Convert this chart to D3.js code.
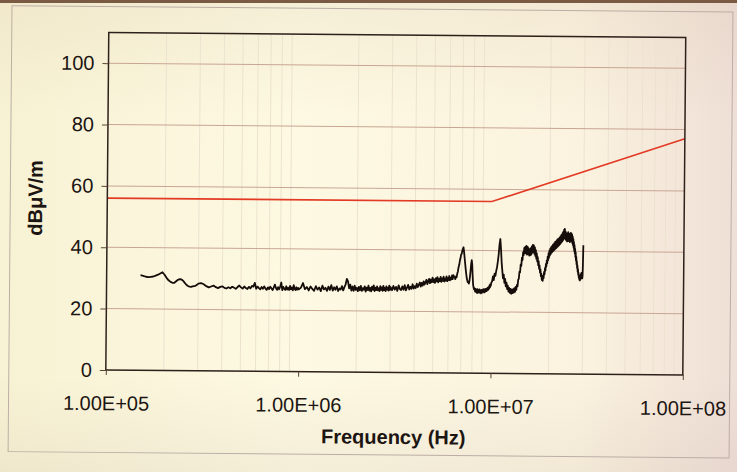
<!DOCTYPE html>
<html>
<head>
<meta charset="utf-8">
<script src="https://cdn.jsdelivr.net/npm/d3@7"></script>
<style>
  html, body { margin: 0; padding: 0; background: #f8f1dc; }
  svg { display: block; }
</style>
</head>
<body>
<svg id="chart" width="737" height="472"></svg>
<script>
// ---- axis definitions ----
const xTickValues = [1e5, 1e6, 1e7, 1e8];
const xTickLabels = ["1.00E+05", "1.00E+06", "1.00E+07", "1.00E+08"];
const yTickValues = [0, 20, 40, 60, 80, 100];
const xTitle = "Frequency (Hz)";
const yTitle = "dBμV/m";

// ---- limit line: [frequency Hz, dBμV/m] ----
const limitLine = [[1e5, 56], [1e7, 56], [1e8, 77]];

// ---- measured emission scan: [frequency kHz, dBμV/m] ----
const emission = [
  [150,31.0],[155,30.8],[160,30.5],[165,30.4],[170,30.5],[175,30.6],[180,30.9],[185,31.2],[190,31.6],[195,32.0],
  [200,31.2],[205,30.2],[210,29.4],[215,28.9],[220,28.6],[225,28.6],[230,29.1],[235,29.6],[240,29.8],[245,29.7],
  [250,29.3],[255,28.6],[260,28.0],[265,27.6],[270,27.4],[275,27.3],[280,27.5],[285,27.6],[290,27.7],[295,28.0],[300,28.4],
  [310,28.6],[320,28.2],[330,27.6],[340,27.2],[350,27.5],[360,27.8],[370,27.3],[380,27.0],[390,27.4],[400,27.6],
  [410,27.1],[420,26.9],[430,27.3],[440,27.0],[450,27.5],[460,27.2],[470,26.8],[480,27.4],[490,27.9],[500,27.3],
  [510,26.9],[520,27.6],[530,27.1],[540,26.8],[550,27.5],[560,27.0],[570,27.8],[580,27.6],[590,28.8],[600,26.9],
  [610,27.6],[620,27.1],[630,26.7],[640,27.5],[650,26.9],[660,27.7],[670,27.0],[680,26.6],[690,27.4],[700,26.8],
  [710,27.6],[720,27.1],[730,26.5],[740,27.3],[750,28.3],[760,27.2],[770,26.6],[780,27.5],[790,26.8],[800,27.7],
  [810,29.0],[820,26.5],[830,27.6],[840,27.0],[850,26.6],[860,27.8],[870,26.7],[880,27.3],[890,26.6],[900,27.9],
  [910,26.8],[920,27.4],[930,26.5],[940,28.2],[950,27.0],[960,26.6],[970,27.5],[980,26.7],[990,27.3],[1000,26.8],
  [1025,27.4],[1050,28.9],[1075,26.9],[1100,27.6],[1125,26.5],[1150,27.8],[1175,27.0],[1200,26.4],[1225,27.9],[1250,26.8],
  [1275,27.5],[1300,26.3],[1325,28.1],[1350,26.9],[1375,27.4],[1400,26.4],[1425,27.8],[1450,26.7],[1475,28.3],[1500,26.5],
  [1525,27.6],[1550,26.8],[1575,27.9],[1600,26.4],[1625,27.2],[1650,26.9],[1675,28.0],[1700,26.6],[1725,27.7],[1750,28.6],
  [1775,30.4],[1800,29.6],[1825,27.3],[1850,28.5],[1875,26.6],[1900,27.9],[1925,26.5],[1950,28.2],[1975,26.8],[2000,27.5],
  [2025,26.4],[2050,27.8],[2075,26.7],[2100,28.1],[2125,26.5],[2150,27.4],[2175,26.9],[2200,28.0],[2225,26.3],[2250,27.6],
  [2275,26.8],[2300,28.2],[2325,26.6],[2350,27.5],[2375,26.4],[2400,27.9],[2425,26.9],[2450,28.3],[2475,26.5],[2500,27.6],
  [2525,26.8],[2550,28.0],[2575,26.7],[2600,27.4],[2625,26.5],[2650,28.1],[2675,26.9],[2700,27.7],[2725,26.6],[2750,28.2],
  [2775,26.8],[2800,27.5],[2825,26.5],[2850,28.0],[2875,27.0],[2900,27.6],[2925,26.7],[2950,28.3],[2975,26.9],[3000,27.8],
  [3050,26.8],[3100,28.2],[3150,27.0],[3200,27.9],[3250,26.6],[3300,28.4],[3350,27.2],[3400,26.9],[3450,28.1],[3500,27.0],
  [3550,28.5],[3600,26.8],[3650,27.7],[3700,28.6],[3750,27.1],[3800,28.0],[3850,27.3],[3900,28.8],[3950,27.4],[4000,28.2],
  [4050,27.6],[4100,29.0],[4150,27.9],[4200,28.6],[4250,29.4],[4300,28.1],[4350,29.3],[4400,28.4],[4450,29.8],[4500,28.7],
  [4550,29.5],[4600,30.3],[4650,28.9],[4700,29.8],[4750,30.6],[4800,29.2],[4850,30.4],[4900,29.5],[4950,31.0],[5000,29.6],
  [5050,30.5],[5100,29.3],[5150,30.9],[5200,29.8],[5250,31.2],[5300,29.5],[5350,30.6],[5400,29.9],[5450,31.3],[5500,29.7],
  [5550,30.8],[5600,30.0],[5650,31.4],[5700,29.8],[5750,30.7],[5800,30.1],[5850,31.5],[5900,29.9],[5950,30.9],[6000,30.3],
  [6050,31.6],[6100,30.2],[6150,31.0],[6200,30.5],[6250,31.8],[6300,30.6],[6350,31.9],[6400,31.4],[6450,31.2],[6500,30.6],
  [6550,31.5],[6600,31.2],[6650,32.4],[6700,33.1],[6750,34.5],[6800,35.2],[6850,36.6],[6900,37.4],[6950,38.6],[7000,38.9],
  [7050,39.9],[7100,40.5],[7150,41.0],[7200,39.5],[7250,37.6],[7300,35.8],[7350,34.0],[7400,32.4],[7450,31.0],[7500,30.2],
  [7550,29.6],[7600,29.8],[7650,29.2],[7700,30.0],[7750,31.6],[7800,33.5],[7850,35.6],[7900,36.8],[7950,35.2],[8000,31.5],
  [8050,28.8],[8100,27.9],[8150,27.3],[8200,27.6],[8250,26.6],[8300,27.5],[8350,26.4],[8400,27.2],[8450,26.1],[8500,27.4],
  [8550,26.5],[8600,27.0],[8650,26.2],[8700,27.3],[8750,26.4],[8800,26.9],[8850,26.0],[8900,27.2],[8950,26.5],[9000,27.1],
  [9050,26.3],[9100,27.4],[9150,26.6],[9200,27.0],[9250,26.4],[9300,27.5],[9350,26.7],[9400,27.3],[9450,26.8],[9500,27.7],
  [9550,27.0],[9600,27.9],[9650,27.2],[9700,28.2],[9750,27.6],[9800,28.7],[9850,28.0],[9900,29.1],[9950,28.6],[10000,29.5],
  [10100,30.0],[10200,31.6],[10300,30.4],[10400,32.5],[10500,31.8],[10600,33.4],[10700,34.6],[10800,36.5],[10900,38.8],[11000,42.0],
  [11100,43.8],[11200,40.5],[11300,36.2],[11400,33.5],[11500,31.0],[11600,32.2],[11700,29.5],[11800,30.8],[11900,28.4],[12000,29.6],
  [12100,27.5],[12200,28.6],[12300,26.7],[12400,27.9],[12500,26.3],[12600,27.6],[12700,26.0],[12800,27.3],[12900,26.2],[13000,27.5],
  [13100,26.4],[13200,27.8],[13300,26.6],[13400,28.2],[13500,27.3],[13600,28.9],[13700,28.4],[13800,30.6],[13900,30.9],[14000,33.2],
  [14100,33.0],[14200,35.6],[14300,35.1],[14400,37.8],[14500,37.0],[14600,39.6],[14700,38.6],[14800,41.0],[14900,39.3],[15000,41.4],
  [15100,39.2],[15200,41.6],[15300,38.8],[15400,41.3],[15500,39.0],[15600,40.8],[15700,38.5],[15800,40.4],[15900,38.6],[16000,40.9],
  [16100,38.8],[16200,41.5],[16300,39.4],[16400,42.0],[16500,39.6],[16600,41.8],[16700,39.1],[16800,41.2],[16900,38.4],[17000,40.3],
  [17100,37.5],[17200,39.2],[17300,36.6],[17400,38.0],[17500,35.4],[17600,36.7],[17700,34.2],[17800,35.3],[17900,33.0],[18000,34.0],
  [18100,31.8],[18200,32.6],[18300,30.6],[18400,31.5],[18500,30.3],[18600,32.0],[18700,31.2],[18800,33.2],[18900,32.4],[19000,34.5],
  [19100,33.6],[19200,35.8],[19300,34.9],[19400,37.0],[19500,36.0],[19600,38.2],[19700,37.0],[19800,39.3],[19900,37.8],[20000,40.2],
  [20100,38.5],[20200,40.8],[20300,39.0],[20400,41.3],[20500,39.4],[20600,41.6],[20700,39.7],[20800,42.0],[20900,40.0],[21000,42.3],
  [21100,40.2],[21200,42.6],[21300,40.5],[21400,43.0],[21500,40.8],[21600,43.2],[21700,41.0],[21800,43.5],[21900,41.3],[22000,43.8],
  [22100,41.5],[22200,44.0],[22300,41.8],[22400,44.2],[22500,42.0],[22600,44.5],[22700,42.3],[22800,44.8],[22900,42.6],[23000,45.2],
  [23100,42.9],[23200,45.5],[23300,43.2],[23400,46.0],[23500,43.6],[23600,46.4],[23700,44.0],[23800,47.0],[23900,44.6],[24000,47.3],
  [24100,44.2],[24200,46.5],[24300,43.8],[24400,46.0],[24500,43.5],[24600,45.6],[24700,43.2],[24800,45.9],[24900,43.4],[25000,46.2],
  [25100,43.6],[25200,45.8],[25300,43.3],[25400,45.5],[25500,43.0],[25600,45.7],[25700,43.4],[25800,46.0],[25900,43.6],[26000,45.8],
  [26100,43.2],[26200,45.4],[26300,42.6],[26400,44.8],[26500,42.0],[26600,44.0],[26700,41.2],[26800,43.0],[26900,40.2],[27000,42.0],
  [27100,39.4],[27200,40.8],[27300,38.2],[27400,39.6],[27500,37.0],[27600,38.2],[27700,35.8],[27800,36.8],[27900,34.6],[28000,35.4],
  [28100,33.4],[28200,34.2],[28300,32.4],[28400,33.0],[28500,31.4],[28600,32.2],[28700,30.8],[28800,31.6],[28900,30.5],[29000,31.9],
  [29100,30.9],[29200,32.6],[29300,31.3],[29400,33.0],[29500,31.5],[29600,32.8],[29700,31.2],[29800,32.0],[29900,35.5],[30000,42.0]
];

// ---- layout ----
const W = 737, H = 472;
const plot = { left: 107, right: 684, top: 35, bottom: 372.5 };

const svg = d3.select("#chart");
const defs = svg.append("defs");

// paper tone
const paper = defs.append("linearGradient").attr("id", "paper").attr("x1", 0).attr("x2", 1).attr("y1", 0).attr("y2", 0);
paper.append("stop").attr("offset", "0%").attr("stop-color", "#f8f2d4");
paper.append("stop").attr("offset", "40%").attr("stop-color", "#fdf9e2");
paper.append("stop").attr("offset", "78%").attr("stop-color", "#fbf3df");
paper.append("stop").attr("offset", "100%").attr("stop-color", "#efdfd6");
const shade = defs.append("linearGradient").attr("id", "shade").attr("x1", 0).attr("x2", 0).attr("y1", 0).attr("y2", 1);
shade.append("stop").attr("offset", "0%").attr("stop-color", "#b09070").attr("stop-opacity", 0.10);
shade.append("stop").attr("offset", "25%").attr("stop-color", "#b09070").attr("stop-opacity", 0);
shade.append("stop").attr("offset", "80%").attr("stop-color", "#a08880").attr("stop-opacity", 0);
shade.append("stop").attr("offset", "100%").attr("stop-color", "#a08880").attr("stop-opacity", 0.10);

svg.append("rect").attr("width", W).attr("height", H).attr("fill", "url(#paper)");
svg.append("rect").attr("width", W).attr("height", H).attr("fill", "url(#shade)");
svg.append("rect").attr("width", W).attr("height", 3).attr("fill", "#7a5a42");

// whole sheet sits at a slight angle
const g = svg.append("g").attr("transform", "rotate(0.5 396 236)");

// outer chart-area frame
g.append("rect")
  .attr("x", 10).attr("y", 9).attr("width", 721).attr("height", 446)
  .attr("fill", "none").attr("stroke", "#bcaea6").attr("stroke-width", 1);

// ---- scales ----
const x = d3.scaleLog().domain([1e5, 1e8]).range([plot.left, plot.right]);
const y = d3.scaleLinear().domain([0, 110]).range([plot.bottom, plot.top]);

// minor vertical gridlines (2..9 in every decade)
const minorTicks = x.ticks().filter(d => {
  const m = d / Math.pow(10, Math.floor(Math.log10(d) + 1e-9));
  return Math.round(m) !== 1;
});
g.append("g").selectAll("line").data(minorTicks).join("line")
  .attr("x1", d => x(d)).attr("x2", d => x(d))
  .attr("y1", plot.top).attr("y2", plot.bottom)
  .attr("stroke", "#ece2d0").attr("stroke-width", 1);

// major horizontal gridlines
g.append("g").selectAll("line").data(yTickValues.filter(v => v > 0)).join("line")
  .attr("x1", plot.left).attr("x2", plot.right)
  .attr("y1", d => y(d)).attr("y2", d => y(d))
  .attr("stroke", "#c9a594").attr("stroke-width", 1);

// limit line
const line = d3.line().x(d => x(d[0])).y(d => y(d[1]));
g.append("path").datum(limitLine)
  .attr("d", line)
  .attr("fill", "none").attr("stroke", "#e23a24").attr("stroke-width", 1.7);

// emission trace
const traceLine = d3.line().x(d => x(d[0] * 1000)).y(d => y(d[1]));
g.append("path").datum(emission)
  .attr("d", traceLine)
  .attr("fill", "none").attr("stroke", "#140d0a").attr("stroke-width", 1.8)
  .attr("stroke-linejoin", "round");

// plot border
g.append("rect")
  .attr("x", plot.left).attr("y", plot.top)
  .attr("width", plot.right - plot.left).attr("height", plot.bottom - plot.top)
  .attr("fill", "none").attr("stroke", "#2e201a").attr("stroke-width", 1.5);

// ---- axes ----
const font = "'Liberation Sans', Arial, sans-serif";
const yAxis = g.append("g").attr("transform", `translate(${plot.left},0)`)
  .call(d3.axisLeft(y).tickValues(yTickValues).tickSize(6).tickPadding(8));
const xAxis = g.append("g").attr("transform", `translate(0,${plot.bottom})`)
  .call(d3.axisBottom(x).tickValues(xTickValues).tickFormat((d, i) => xTickLabels[i]).tickSize(5).tickPadding(21));
[yAxis, xAxis].forEach(a => {
  a.select(".domain").remove();
  a.selectAll(".tick line").attr("stroke", "#5a4438").attr("stroke-width", 1);
  a.selectAll(".tick text")
    .attr("fill", "#1c1512")
    .style("font-family", font)
    .style("font-size", "20px");
});

// axis titles
g.append("text")
  .attr("x", 395).attr("y", 444)
  .attr("text-anchor", "middle")
  .style("font-family", font).style("font-size", "20px").style("font-weight", "bold")
  .attr("fill", "#1c1512")
  .text(xTitle);
g.append("text")
  .attr("transform", "translate(42,201) rotate(-90)")
  .attr("text-anchor", "middle")
  .style("font-family", font).style("font-size", "20px").style("font-weight", "bold")
  .attr("fill", "#1c1512")
  .text(yTitle);
</script>
</body>
</html>
